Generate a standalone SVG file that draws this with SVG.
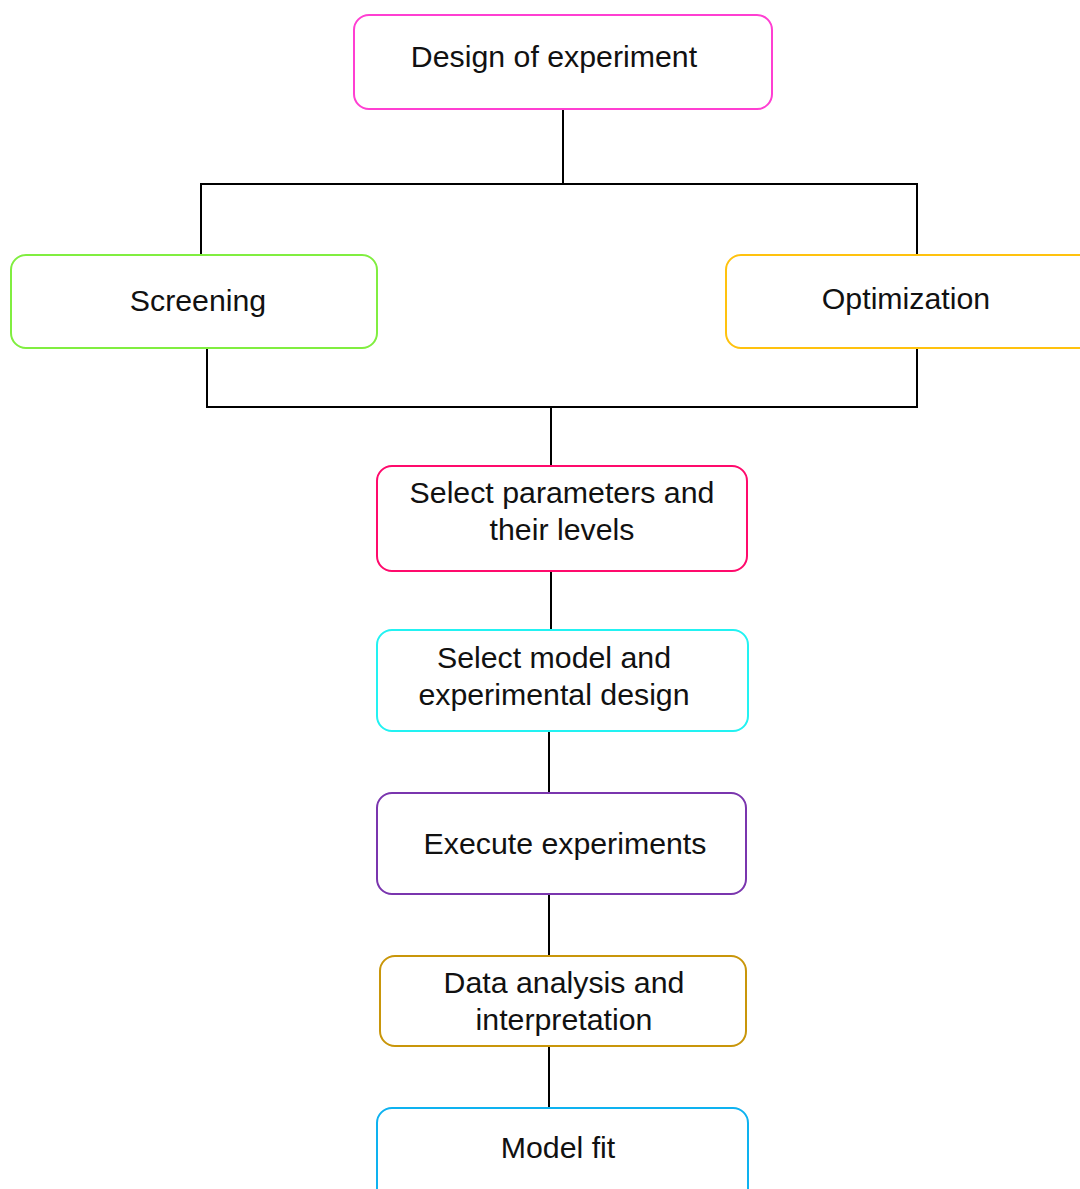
<svg xmlns="http://www.w3.org/2000/svg" width="1080" height="1189" viewBox="0 0 1080 1189">
<style>
.box{fill:#fff;stroke-width:2}
.t{font-family:"Liberation Sans",Arial,sans-serif;font-size:30.3px;fill:#111;text-anchor:middle}
.c{fill:none;stroke:#000;stroke-width:2}
</style>
<rect width="1080" height="1189" fill="#fff"/>
<g id="connectors">
<path class="c" d="M563 109V184M201 255V184H917V255"/>
<path class="c" d="M207 349V407H917V349M551 407V466"/>
<path class="c" d="M551 571V630"/>
<path class="c" d="M549 731V793"/>
<path class="c" d="M549 894V956"/>
<path class="c" d="M549 1046V1108"/>
</g>
<g id="design">
<rect class="box" x="354" y="15" width="418" height="94" rx="15" stroke="#FF3FD2"/>
<text class="t" x="554" y="67">Design of experiment</text>
</g>
<g id="screening">
<rect class="box" x="11" y="255" width="366" height="93" rx="15" stroke="#80EE40"/>
<text class="t" x="198" y="311">Screening</text>
</g>
<g id="optimization">
<rect class="box" x="726" y="255" width="380" height="93" rx="15" stroke="#FFC20E"/>
<text class="t" x="906" y="309">Optimization</text>
</g>
<g id="select-params">
<rect class="box" x="377" y="466" width="370" height="105" rx="15" stroke="#FF0A6C"/>
<text class="t" x="562" y="503">Select parameters and</text>
<text class="t" x="562" y="540">their levels</text>
</g>
<g id="select-model">
<rect class="box" x="377" y="630" width="371" height="101" rx="15" stroke="#22F2F2"/>
<text class="t" x="554" y="668">Select model and</text>
<text class="t" x="554" y="705">experimental design</text>
</g>
<g id="execute">
<rect class="box" x="377" y="793" width="369" height="101" rx="15" stroke="#7A35AE"/>
<text class="t" x="565" y="854">Execute experiments</text>
</g>
<g id="analysis">
<rect class="box" x="380" y="956" width="366" height="90" rx="15" stroke="#C9960A"/>
<text class="t" x="564" y="993">Data analysis and</text>
<text class="t" x="564" y="1030">interpretation</text>
</g>
<g id="model-fit">
<rect class="box" x="377" y="1108" width="371" height="100" rx="15" stroke="#0EB2F0"/>
<text class="t" x="558" y="1158">Model fit</text>
</g>
</svg>
